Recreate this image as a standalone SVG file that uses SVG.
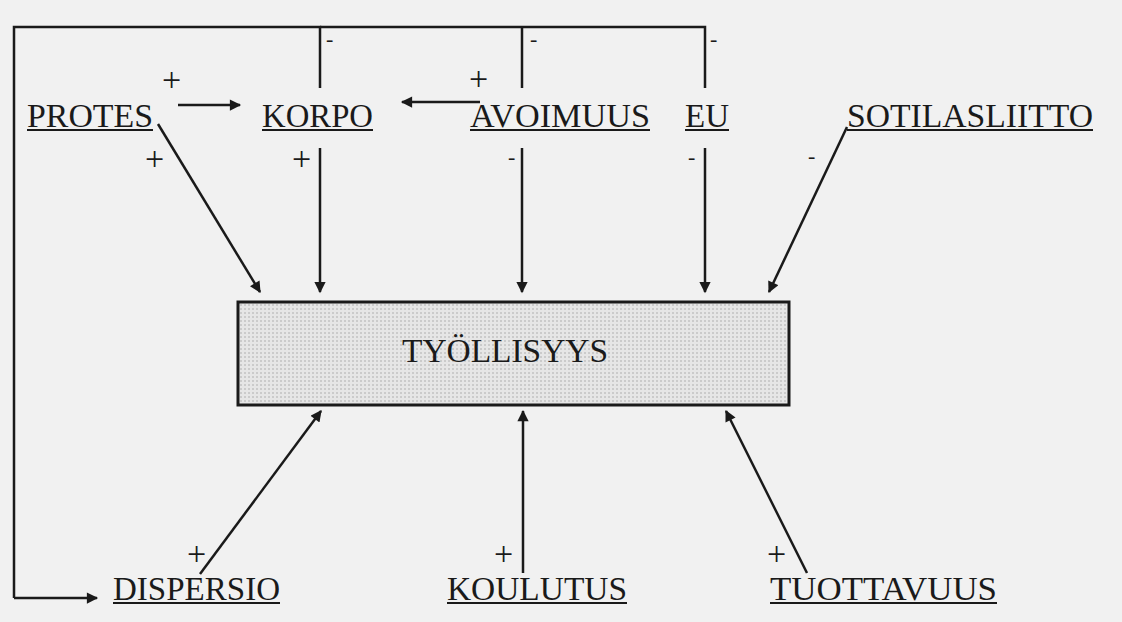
<svg xmlns="http://www.w3.org/2000/svg" width="1122" height="622" viewBox="0 0 1122 622">
<style>
.lbl{font-family:"Liberation Serif","Tinos","Times New Roman","DejaVu Serif",serif;font-size:33px;fill:#1a1a1a}
.ul{stroke:#1a1a1a;stroke-width:2}
.sg{font-family:"Liberation Serif","Tinos","Times New Roman","DejaVu Serif",serif;font-size:34px;fill:#1a1a1a}
.mn{font-family:"Liberation Serif","Tinos","Times New Roman","DejaVu Serif",serif;font-size:22px;fill:#1a1a1a}
.ln{stroke:#1a1a1a;stroke-width:2.5;fill:none}
.ar{stroke:#1a1a1a;stroke-width:2.5;fill:none;marker-end:url(#ah)}
</style>
<defs>
<marker id="ah" viewBox="0 0 10 10" refX="9" refY="5" markerWidth="5" markerHeight="4.5" orient="auto" markerUnits="strokeWidth">
<path d="M0,0 L10,5 L0,10 z" fill="#1a1a1a"/>
</marker>
<pattern id="dots" width="4" height="4" patternUnits="userSpaceOnUse">
<rect width="4" height="4" fill="#e6e6e6"/>
<rect width="2" height="2" fill="#cbcbcb"/>
</pattern>
</defs>
<rect width="1122" height="622" fill="#f1f1f1"/>

<g id="connectors">
<polyline class="ln" points="320,88 320,27 14,27 14,598"/>
<polyline class="ln" points="522,88 522,27"/>
<polyline class="ln" points="320,27 705,27 705,88"/>
<line class="ar" x1="14" y1="598" x2="97" y2="598"/>
<text class="mn" x="326" y="46">-</text>
<text class="mn" x="530" y="46">-</text>
<text class="mn" x="710" y="46">-</text>
<line class="ar" x1="178" y1="105" x2="240" y2="105"/>
<text class="sg" x="162" y="91">+</text>
<line class="ar" x1="480" y1="102" x2="402" y2="102"/>
<text class="sg" x="469" y="90">+</text>
<line class="ar" x1="158" y1="124" x2="260" y2="292"/>
<text class="sg" x="145" y="170">+</text>
<line class="ar" x1="320" y1="148" x2="320" y2="292"/>
<text class="sg" x="292" y="170">+</text>
<line class="ar" x1="522" y1="148" x2="522" y2="292"/>
<text class="mn" x="508" y="164">-</text>
<line class="ar" x1="705" y1="148" x2="705" y2="292"/>
<text class="mn" x="688" y="164">-</text>
<line class="ar" x1="847" y1="127" x2="769" y2="292"/>
<text class="mn" x="808" y="163">-</text>
<line class="ar" x1="200" y1="574" x2="321" y2="411"/>
<text class="sg" x="187" y="565">+</text>
<line class="ar" x1="523" y1="573" x2="523" y2="411"/>
<text class="sg" x="494" y="565">+</text>
<line class="ar" x1="807" y1="573" x2="726" y2="411"/>
<text class="sg" x="767" y="565">+</text>
</g>

<g id="node-protes"><text class="lbl" x="27" y="127" textLength="126" lengthAdjust="spacingAndGlyphs">PROTES</text><line class="ul" x1="27" y1="130" x2="153" y2="130"/></g>
<g id="node-korpo"><text class="lbl" x="262" y="127" textLength="111" lengthAdjust="spacingAndGlyphs">KORPO</text><line class="ul" x1="262" y1="130" x2="373" y2="130"/></g>
<g id="node-avoimuus"><text class="lbl" x="470" y="127" textLength="180" lengthAdjust="spacingAndGlyphs">AVOIMUUS</text><line class="ul" x1="470" y1="130" x2="650" y2="130"/></g>
<g id="node-eu"><text class="lbl" x="685" y="127" textLength="44" lengthAdjust="spacingAndGlyphs">EU</text><line class="ul" x1="685" y1="130" x2="729" y2="130"/></g>
<g id="node-sotilasliitto"><text class="lbl" x="847" y="127" textLength="246" lengthAdjust="spacingAndGlyphs">SOTILASLIITTO</text><line class="ul" x1="847" y1="130" x2="1093" y2="130"/></g>

<g id="node-tyollisyys">
<rect x="238" y="302" width="551" height="103" fill="url(#dots)" stroke="#1a1a1a" stroke-width="3"/>
<text class="lbl" x="402" y="362" textLength="206" lengthAdjust="spacingAndGlyphs">TYÖLLISYYS</text>
</g>

<g id="node-dispersio"><text class="lbl" x="113" y="600" textLength="167" lengthAdjust="spacingAndGlyphs">DISPERSIO</text><line class="ul" x1="113" y1="603" x2="280" y2="603"/></g>
<g id="node-koulutus"><text class="lbl" x="447" y="600" textLength="180" lengthAdjust="spacingAndGlyphs">KOULUTUS</text><line class="ul" x1="447" y1="603" x2="627" y2="603"/></g>
<g id="node-tuottavuus"><text class="lbl" x="770" y="600" textLength="227" lengthAdjust="spacingAndGlyphs">TUOTTAVUUS</text><line class="ul" x1="770" y1="603" x2="997" y2="603"/></g>
</svg>
